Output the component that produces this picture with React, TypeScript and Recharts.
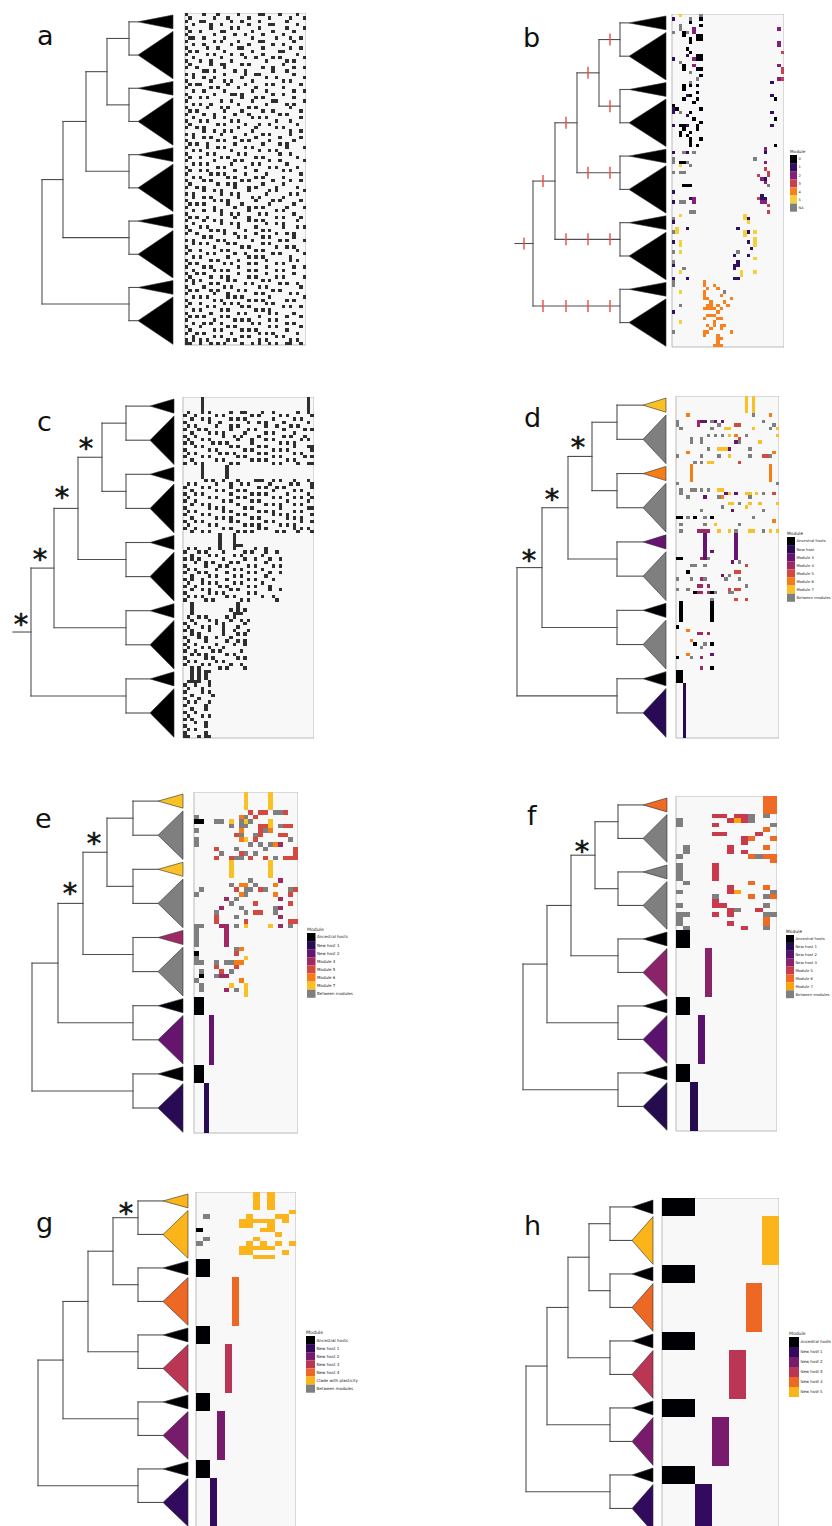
import React from 'react';
import { ComposedChart, Scatter, XAxis, YAxis, CartesianGrid, ReferenceLine, ReferenceArea, ReferenceDot } from 'recharts';

// each tree has 5 pairs of collapsed clades; tip rows as a fraction of one pair
const SMALL_F = [0.03, 0.237];
const BIG_F = [0.277, 0.99];
const FONT = '"DejaVu Sans", sans-serif';

// presence / absence matrices (a, c): '#' = present, 100 rows each
const matrixA = [
  '#....#...#.....#.....##....#....#..', '.#......#...#.....#.....#.....#...#', '#...##.......#..#....#.......#.....', '..#....#..#.......#.....##......#..',
  '#......#.....#.#.....#.......#....#', '.#..#.....##.......#.....#.....#...', '#.......#.....#..#....#.....#......', '.##..#.....#.......#......#...#..#.',
  '#.......#.#....#.....##........#...', '..#..#.......#....#......#..#......', '#.....#..#.....##.....#.......#..#.', '.#.#.......#.......#.......##......',
  '#.....#.#....#..#.....#.........#..', '..#.......#......#..#....#.#......#', '#...#..#.....#.........#.....#.#...', '.#.....#..##....#.#.........#......',
  '#..#.......#..........#..#.....#..#', '.....##.#.....#..#.......#...#.....', '#.#........#.....#..##.........#...', '..#..#..#.......#......#..#.......#',
  '#......#...#.#.....#........#.#....', '.#.##.......#....#.....#.#.......#.', '#......#.#.....#....#.......#......', '..#..#.....#.......#...#.......#..#',
  '#.......#....##.#........#..#......', '.#..#.#.........#...#.#........#...', '#.........#..#.....#.....##.......#', '..#.#..#.......#.......#.....#.#...',
  '#.....#...#.#.....#.#.........#....', '.#.#.......#....#.....#..#.......#.', '#....#..#.....#...#........#.#.....', '..#.....#..#.......#.#.#.........#.',
  '#...#.#......#.#..........#...#....', '.#.......#.#.....#...#..#.......#..', '#..#.#.........#....#.....#.#......', '.....#..#..#.#.....#..........#..#.',
  '#.#.......#......#....#.#.....#....', '..#..#.#......#.....#......#.....#.', '#........#.#....#.#.....#......#...', '.#.#..#.......#.......#....#.#.....',
  '#.....#..#.#.....#.#.........#....#', '..#.#........#.......#..#.#........', '#.....#.#......#.#.........#..#....', '.#..#.....#.#.......#.#.........#..',
  '#.......#.....#.#.......#..#......#', '..#.#.#......#.....#.#.......#.....', '#........#.#.....#......#.#.....#..', '.#..#.#.......#.....#.......#.#....',
  '#......#.#.#.....#.....#.........#.', '..#.#.......#.#.....#.#.....#......', '#....#.#........#.#......#....#..#.', '.#.......#..#.#.......#.....#......',
  '#..#.#........#...#.#.....#.....#..', '.....#..#.#.......#.....#.#.......#', '#.#.......#..#.#.......#......#.#..', '..#..#.#.......#...#.#......#......',
  '#.......#.#.#.......#....#.#.....#.', '.#.#.#......#...#.......#......#...', '#.......#.....#...#.#.#......#....#', '..#..#..#.#.......#.......#.#......',
  '#.........#..#.#.....#.#.......#...', '.#.#..#.......#...#.......#.#....#.', '#....#..#.#.......#.#.#.........#..', '..#.......#..#.#.......#..#.#......',
  '#...#.#........#....#.......#...#.#', '.#.....#.#.#.....#....#.#.........', '#..#.......#..#.....#.....#..#.#...', '.....#.#.......#.#....#.#......#...',
  '#.#......#.#.......#.......#.#....#', '..#.#.#.....#.#.......#.#.........', '#.......#.......#.#.......#..#.#...', '.#..#.....#.#.......#.#.........#..',
  '#.....#.#.....#..#.......#.#......#', '..#.#.......#.....#.#.#.......#....', '#......#.#.....#.......#......#.#..', '.#.#.......#.#....#.#.....#.#......',
  '#....#.#.......#.......#.......#..#', '..#.....#.#.#.....#.#.....#.#......', '#..#.#.........#.......#.......#...', '.#.....#..#.#.....#.#.....#.#.....#',
  '#.#.#.......#.#.......#.#.........', '..#....#.#.......#.#.......#.#..#..', '#....#.....#.#.......#.#.........#.', '.#.#...#.#.....#.#.......#.#.......',
  '#.......#...#.......#.#.......#.#..', '..#.#.#.....#.#.#.......#.........#', '#.......#.#.......#.#.#......#.#...', '.#..#......#.#.#.......#.#.........',
  '#.....#.#.......#.#.........#.#..#.', '..#.#.....#.#.......#.#.#.........', '#......#.......#.#......#.#....#...', '.#.#.#....#.#........#.......#...#.',
  '#.......#.....#.#.#.....#.#.......', '..#..#.#..#........#.#.......#.#...', '#...#.......#.#.........#.#......#.', '.#......#.#.....#.#.#........#.....',
  '#..#.#.......#.......#.#.#......#..', '..#.....#.#.....#.#.......#.#......', '#.#.#.#.....#.#......#.#......#.#..', '##..#..#.#.#....#..#.#..#.#..##..#.',
];

const matrixC = [
  '.....#.............................#.', '.....#.............................#.', '.....#.............................#.', '.....#.............................#.',
  '.#...#.#.....#..##....#..#......#..#.', '#..#.....#.#.......#.#.....#.#......#', '..#..#.#.....#.#.#.......#.....#.#...', '#......#..#.......#..#.#....#......#.',
  '.#.#.....#...#.#.......#..#...#.#....', '#...#.#......#....#.#.......#.....#.#', '..#....#.#.#.....#.....#.#.....#.....', '#..#.......#..#.#....#......#.#...#..',
  '.#...#.#.......#...#...#.#.......#.#.', '#.#.....#.#.#......#.......#.#.#.....', '...#.#.......#.#.....#.#.......#...##', '#......#.#.......#.#.....#.#.#......#',
  '.#.#......#.#.#......#.#.......#.#...', '#....#.#.......#.#.......#.#......#.#', '..#......#.#.......#.#.#.....#.#.....', '#..#.#.......#.#.........#.#....#..##',
  '.....#......#', '.....#......#', '.....#......#', '.....#......#',
  '......#.#..#...#....###..#.#...#...#.', '.#.#.....#...#..#.#.....#.....#.#...#', '#....#.#.....#.......#.#..#.#.......#', '..#......#.#...#.#.......#.....#.#...',
  '#..#.#.......#.....#.#.#.....#.....#.', '.#.....#.#.....#.#.......#.#...#.#..#', '#..#.......#.#.....#.#.......#.....#.', '..#..#.#.......#.......#.#.#...#.#...',
  '#......#.#.#.....#.#.......#.......##', '.#.#.......#.#.......#.#.#.....#.#...', '#....#.#.......#.#.......#.#.#......#', '..#......#.#.#.....#.#.......#.#.#...',
  '#..#.#.......#.#.......#.#.......#..#', '.#.....#.#.......#.#.#.....#.#.#.....', '#..#.......#.#.......#.#.......#.#.#.', '..#..#.#.......#.#.#......#.#...#...#',
  '..........#...#', '..........#...#', '..........#...#', '..........#...###',
  '.#.#...#..#...#.....#..#.....', '#...#.#....#.....#.#...#..#..', '..#....#.#....#.#.....#......', '#.#.#......#.....#..#...#..#.',
  '...#..#.#....#.#.......#.....', '#.....#...#.#.....#.#....#.#.', '.#.#.....#....#.#.....#......', '#...#.#.....#.....#.#...#..#.',
  '..#....#.#....#.#......#.....', '#.#..#......#.....#.#....#...', '.#...#.#.#....#.#.....#......', '#..#......#.#.....#.#...#....',
  '..#..#.#.....#.#........#..#.', '#......#.#.#......#.#........', '.#.#.#......#.#.......#..#...', '#.....#.#.......#.#.......#..',
  '..#............#', '..#............#', '..#..........#.#.#', '..#...........###',
  '.#..#.#.....#.#....', '..#....#.#...#..#.#', '#..#.....#.#.....#.', '.#...#.#...#...#...',
  '#.#....#...#..#...#', '..#.#......#...#.#.', '#...#.#..#...#.....', '.#....#.....#..#.#.',
  '#..#.....#....#..#.', '.#...#.#...#.......', '#..#....#.#.....#..', '..#.#.#.....#.#....',
  '#.....#.#......#.#.', '.#.#.....#.#.......', '#....#.#.....#..#..', '..#.#.....#.#....#.',
  '..#.#.##', '..#.#.#', '..#.#.#', '.####..#',
  '#..#...#.', '.#...#...', '#....#.#.', '..#.....#', '#...#....', '.#.#...#.', '#.....#..', '..#...#..',
  '#..#.....', '.#...#.#.', '#.#......', '...#..#..', '#.....#..', '.#.#.....', '#.....#..', '##..#.##.',
];

// coloured matrices: "rows: col(s)+key ..."
const cellsB = [
  '0: 2y 8g', '1: 0p 5g 8k', '2: 5k', '3: 2g 8k', '4: 2g 6m 31m', '5: 0g 3k 4g 6m', '6: 3k 7-8k', '7: 5k 7-8k',
  '8: 5k 31m', '9: 31m', '10: 4k', '11: 5k 32r', '12: 4p 7-8k', '13: 0p 6m 7-8k', '14: 2g', '15: 3k 6m 31m',
  '16: 3k 7-8k 32r', '17: 5g 32r', '18: 8k', '19: 7g 31m 32r', '20: 5g 29p', '21: 3k 5k 7k', '22: 3k', '23: 7k',
  '24: 4p 5k 29p', '25: 3k 7k 30k', '26: 6k', '27: 0k', '28: 0p 1k 8k', '29: 0p 2g 5k 29p', '30: 4p', '31: 6k 30k',
  '32: 8k', '33: 0p 2-3k 4p 7k 29p', '34: 3k 7k', '35: 2k 5k', '36: 2k 4k', '37: 5k 8k', '38: 5k', '39: 5k 7k 30k',
  '40: 27m', '41: 0p 3g 4p 6g 27p', '43: 0g 24g', '44: 0g 2-3k 4g 27m', '45: 2y 5g', '46: 27r', '47: 0g 2-3g 28r',
  '48: 25r 28r', '49: 26m 27p', '50: 27m', '51: 3k 4k 5k 28g', '53: 0p', '54: 26p', '55: 5p 6m 25r 26-27p',
  '56: 0p 2-3g 6m 26-27m', '57: 28r', '59: 5-6g 28r', '60: 2y 21y', '61: 0g 21y 22p', '62: 0p 22y', '64: 1y 4p 19p',
  '65: 0g 1y 21y 22p 24y', '66: 21y', '67: 24y', '68: 0p 2y 22p 24y', '69: 2y 24y', '70: 23p', '71: 0g 2y 19g',
  '72: 18p 22p', '73: 24y', '74: 0g 19p', '75: 0p 18-19p', '76: 3g 18p', '77: 2y 20y 24y', '78: 20y', '79: 0p 4p 18p 19p',
  '80: 0g 9o', '81: 0g 9o 12o', '82: 10o 13o', '83: 2y 9o 15g', '84: 9o 14o', '85: 9-10o 17o', '86: 11o 15o',
  '87: 2g 10-11o 13o 16o', '88: 9-12o 14o', '89: 0p 13o', '90: 10-12o', '91: 9o 13-14o', '92: 2y 12o',
  '93: 10o 12o 14-15o', '94: 11o 14o', '95: 0g 9-10o 17o', '96: 9o 13o', '97: 13-14o', '98: 13o', '99: 12-14o',
];

const cellsD = [
  '0-4: 20y 22y', '5: 3o 22g 27o', '7: 0g 6r 7m 8m 10g 11m 13m 25g', '8: 0g 6r 12g 17-18s 28g',
  '9: 1g 10g 14-15y 22y 27g 29y', '11: 9g 11g 13g 15y 17o 20g 29y', '12: 4g 7g 18s', '13: 4g 7g 17m 18g 24y',
  '15: 9g 12y 13-14y 15m 21g', '16: 3o 28o', '17: 0g 7g 12g 15y 21g 25-26s 27g', '19: 5g 7g 9-10y 18s',
  '20-24: 4o 27o', '25: 0g 29g', '27: 1g 4-5g 7g 9g 12-13y', '28: 1g 14m 15y 17m 20-21y 23y 25g 28s',
  '29: 3g 8m 12g 13o 21g', '31: 15-16y 18g 21y 24y 29y', '32: 13g 20y', '33: 7g 16m 25g',
  '35: 0-1k 3g 5k 8g 10k 22g', '36: 28o', '37: 1g 8g 11y 18g', '39: 1g 6-9r 12y 15y 17g 21-22y 25g 27y 29y',
  '40-47: 8m 17m', '45: 10m', '47: 0-1k 7r 9g', '48: 16m 18g', '49: 4g 5g 8g 20s', '51: 3k 17-18s',
  '52: 13m 15g', '53: 0g 4g 7r 8g 14g 18g', '55: 6r 7r 9r 20g', '56: 0g 3g 15s 17-18s',
  '57: 5k 6-7r 9r 10k 11g 15g 16g', '59: 10g 17s 20s', '60-65: 1k 10k', '67: 0k', '68: 3o', '69: 6r 7r 9r',
  '71: 4o', '72: 5k 8g 10k', '73: 7g', '75: 3o 10m', '76: 0k 4g 7r', '79: 7r 10k', '80-83: 0-1k', '84-99: 2p',
];

const cellsE = [
  '0-3: 10y 15y', '4: 11s 13-14s 16-17g 18s', '5: 0g 9o 10g 12s', '6: 0-1k 4-5g 7y 9g 10y 11g 15y',
  '7: 7g 9-10g 13-14s 15y 17g 18-19s', '8: 0g 9o 13s 14g 15o', '9: 8s 9g 12g 13s 17-18s',
  '10: 0g 9o 10y 12s 19g', '11: 0g 11g 13g 15g 16o 17r', '12: 4s 8g 14g 20s', '13: 5g 9s 10g 12g 20s',
  '14: 4s 7s 8-9g 11s 14s 16g 18s 19-20s', '15-18: 7y 15y', '19: 11g 17r', '20: 7g 9-10o 12g 16o',
  '21: 1g 8s 10g 11g 13s 14g 19g 20s', '22: 0g 9o 10g 16o 19s', '23: 6r 8g 17r', '24: 7g 12s 19s',
  '25: 5r 9g 16g 17r', '26: 4g 10g 12s 13s 16g', '27: 4s 8g 17r', '28: 4s 10s 19-20s',
  '29: 0g 1g 5-6r 8g 10y 15y 17r 19g', '30-33: 0g 6r', '34: 8g 9o', '35: 0k 8s', '36: 0g 10y',
  '37: 0g 1g 4g 6-7g 8-9o', '38: 4s 8s', '39: 1g 5s 7g', '40: 1k 4g 5-6r', '41: 0g 9o', '42: 1g 7y 10y',
  '43: 1g 6r 8g 10y', '44: 10y', '45-48: 0-1k', '49-59: 3m', '60-63: 0-1k', '64-74: 2p',
];

const cellsF = [
  '0-3: 12-13o', '4: 5-6s 8s 9s 10g 12g', '5: 0g 7s 8y 9s 10g', '6: 0g 5s 13g', '7: 12o', '8: 5-6s 11s',
  '9: 9s 10o 13o', '10: 9s', '11: 1g 7s 12o', '12: 1g 7s 9s', '13: 0g 10o 11g 12-13o', '14: 13o',
  '15-18: 0g 5s', '19: 1g 10o', '20: 7s 12o', '21: 0g 7s 8y 13g', '22: 5g 10o 12g 13o', '23: 5s',
  '24: 0g 5-6s 12g', '25: 7s 8g 11s', '26: 0g 1g 5s 7s 12g 13g', '27: 0g 12o', '28: 0g 7s 12o',
  '29: 1g 9s 12g', '30-33: 0-1k', '34-44: 4r', '45-48: 0-1k', '49-59: 3m', '60-63: 0-1k', '64-74: 2p',
];

const cellsG = [
  '0-3: 8o 10o', '4: 13o', '5: 1g 7o 11-12o', '6: 6-10o 12o', '7: 6-7o 10o', '8: 0k 9-10o', '9: 11o',
  '10: 1g 8o', '11: 0g 7o 9o 11o 13o', '12: 6-10o', '13: 6-7o 12o', '14: 8-10o',
  '15-18: 0-1k', '19-29: 5s', '30-33: 0-1k', '34-44: 4r', '45-48: 0-1k', '49-59: 3m', '60-63: 0-1k', '64-74: 2p',
];

const cellsH = [
  '0-3: 0-1k', '4-14: 6y', '15-18: 0-1k', '19-29: 5o', '30-33: 0-1k', '34-44: 4r',
  '45-48: 0-1k', '49-59: 3m', '60-63: 0-1k', '64-74: 2p',
];

// palettes
const palBW: Record<string, string> = { k: '#000000' };
const palB: Record<string, string> = { k: '#000004', p: '#30105f', m: '#82207a', r: '#c7404f', o: '#f6811d', y: '#f4d03f', g: '#7f7f7f' };
const palDE: Record<string, string> = { k: '#000004', p: '#280B54', m: '#65156E', r: '#9F2A63', s: '#D44842', o: '#F57D15', y: '#FAC127', g: '#7f7f7f' };
const palF: Record<string, string> = { k: '#000004', p: '#240c4f', m: '#5a126f', r: '#8b2369', s: '#c93a4c', o: '#ee6a25', y: '#fba40a', g: '#7f7f7f' };
const palG: Record<string, string> = { k: '#000004', p: '#320A5E', m: '#781B6C', r: '#BB3654', s: '#EC6824', o: '#FBB41A', g: '#7f7f7f' };
const palH: Record<string, string> = { k: '#000004', p: '#320A5E', m: '#781B6C', r: '#BB3654', o: '#EC6824', y: '#FBB41A' };

// collapsed clade colours (small, big) per pair, top to bottom
const triBlack = 'k k k k k k k k k k';
const triD = 'y g o g m g k g k p';
const triE = 'y g y g r g k m k p';
const triF = 'o g g g k r k m k p';
const triG = 'o o k s k r k m k p';
const triH = 'k y k o k r k m k p';

// node depths: root, n3, n2, n1, pair node ; tips: apex, base
const depthsA = [42, 63, 86, 107, 129];
const depthsB = [33, 55, 77, 99, 120];
const depthsC = [31, 54, 78, 102, 126];
const depthsD = [17, 42, 68, 92, 117];
const depthsE = [32, 58, 83, 107, 133];
const depthsF = [23, 47, 71, 95, 118];
const depthsG = [38, 63, 88, 113, 138];
const depthsH = [26, 47, 68, 89, 110];
const tipA = [138, 173];
const tipB = [129, 166];
const tipC = [150, 174];
const tipD = [143, 166];
const tipE = [158, 183];
const tipF = [143, 167];
const tipG = [163, 188];
const tipH = [132, 153];

// red marks on branches of b: [depth, branch]
const redTicksB: [number, string][] = [
  [24, 'root'], [43, 'n3'], [66, 'n2'], [88, 'n1'], [110, 'p0'], [110, 'p1'], [88, 'p2'], [110, 'p2'],
  [66, 'p3'], [88, 'p3'], [110, 'p3'], [43, 'p4'], [66, 'p4'], [88, 'p4'], [110, 'p4'],
];

// asterisks: [depth, row]
const starsC = [[86, 13.5], [62, 28.1], [40, 46.3], [21, 65.3]];
const starsD = [[78, 13.7], [52, 28.7], [29, 46.5]];
const starsE = [[94, 10.3], [70, 21.3]];
const starsF = [[82, 11.4]];
const starsG = [[126, 3.6]];

const legendB: [string, string][] = [['k', '0'], ['p', '1'], ['m', '2'], ['r', '3'], ['o', '4'], ['y', '5'], ['g', 'NA']];
const legendD: [string, string][] = [['k', 'Ancestral hosts'], ['p', 'New host'], ['m', 'Module 3'], ['r', 'Module 4'], ['s', 'Module 5'], ['o', 'Module 6'], ['y', 'Module 7'], ['g', 'Between modules']];
const legendE: [string, string][] = [['k', 'Ancestral hosts'], ['p', 'New host 1'], ['m', 'New host 2'], ['r', 'Module 4'], ['s', 'Module 5'], ['o', 'Module 6'], ['y', 'Module 7'], ['g', 'Between modules']];
const legendF: [string, string][] = [['k', 'Ancestral hosts'], ['p', 'New host 1'], ['m', 'New host 2'], ['r', 'New host 3'], ['s', 'Module 5'], ['o', 'Module 6'], ['y', 'Module 7'], ['g', 'Between modules']];
const legendG: [string, string][] = [['k', 'Ancestral hosts'], ['p', 'New host 1'], ['m', 'New host 2'], ['r', 'New host 3'], ['s', 'New host 4'], ['o', 'Clade with plasticity'], ['g', 'Between modules']];
const legendH: [string, string][] = [['k', 'Ancestral hosts'], ['p', 'New host 1'], ['m', 'New host 2'], ['r', 'New host 3'], ['o', 'New host 4'], ['y', 'New host 5']];

type Cell = { x: number; y: number; fill: string };

function denseCells(rows: string[], fill: string): Cell[] {
  const out: Cell[] = [];
  rows.forEach((row, r) => {
    for (let c = 0; c < row.length; c++) if (row[c] === '#') out.push({ x: c + 0.5, y: r + 0.5, fill });
  });
  return out;
}

function span(s: string): [number, number] {
  const [a, b] = s.split('-').map(Number);
  return [a, b === undefined ? a : b];
}

function sparseCells(entries: string[], pal: Record<string, string>): Cell[] {
  const out: Cell[] = [];
  entries.forEach(e => {
    const [rs, rest] = e.split(':');
    const [r0, r1] = span(rs.trim());
    rest.trim().split(/\s+/).filter(Boolean).forEach(tok => {
      const key = tok.slice(-1);
      const [c0, c1] = span(tok.slice(0, -1));
      for (let r = r0; r <= r1; r++) for (let c = c0; c <= c1; c++) out.push({ x: c + 0.5, y: r + 0.5, fill: pal[key] });
    });
  });
  return out;
}

const centres = (n: number) => Array.from({ length: n }, (_, i) => i + 0.5);

function Matrix({ left, top, width, height, ncols, rows, cells }: any) {
  const AX = 3;
  const cw = width / ncols;
  const ch = height / rows;
  const colTicks = centres(ncols);
  const rowTicks = centres(rows);
  const axes = (lines: boolean) => [
    <XAxis key="x" type="number" dataKey="x" domain={[0, ncols]} ticks={colTicks} interval={0} tick={false} axisLine={false}
      tickSize={2} height={AX} tickLine={lines ? { stroke: '#8f8f8f', strokeWidth: 0.6 } : false} allowDataOverflow />,
    <YAxis key="y" type="number" dataKey="y" domain={[0, rows]} reversed ticks={rowTicks} interval={0} tick={false} axisLine={false}
      tickSize={2} width={AX} tickLine={lines ? { stroke: '#a8a8a8', strokeWidth: 0.5 } : false} allowDataOverflow />,
  ];
  const margin = { top: 0, right: 0, bottom: 0, left: 0 };
  return (
    <>
      <div style={{ position: 'absolute', left: left - AX, top }}>
        <ComposedChart width={width + AX} height={height + AX} margin={margin}>
          <CartesianGrid stroke="#dcdcdc" strokeWidth={0.6} fill="#f8f8f8" />
          {axes(false)}
        </ComposedChart>
      </div>
      <div style={{ position: 'absolute', left: left - AX, top }}>
        <ComposedChart width={width + AX} height={height + AX} margin={margin}>
          {axes(true)}
          <Scatter data={cells} isAnimationActive={false}
            shape={(p: any) => (
              <rect x={p.cx - cw / 2} y={p.cy - ch / 2} width={cw} height={ch} fill={p.payload.fill} shapeRendering="crispEdges" />
            )} />
          <ReferenceArea x1={0} x2={ncols} y1={0} y2={rows} fill="none" fillOpacity={0} stroke="#b8b8b8" strokeWidth={0.8} ifOverflow="visible" />
        </ComposedChart>
      </div>
    </>
  );
}

function Tree({ left, top, height, rows, depths, tip, stub, tri, pal, ticks, stars }: any) {
  const [root, n3, n2, n1, pn] = depths;
  const [apex, base] = tip;
  const P = rows / 5;
  const sY = (i: number) => (i + (SMALL_F[0] + SMALL_F[1]) / 2) * P;
  const bY = (i: number) => (i + (BIG_F[0] + BIG_F[1]) / 2) * P;
  const pY = (i: number) => (sY(i) + bY(i)) / 2;
  const y1 = (pY(0) + pY(1)) / 2;
  const y2 = (y1 + pY(2)) / 2;
  const y3 = (y2 + pY(3)) / 2;
  const yr = (y3 + pY(4)) / 2;
  const seg: number[][] = [];
  for (let i = 0; i < 5; i++) seg.push([pn, sY(i), pn, bY(i)], [pn, sY(i), apex, sY(i)], [pn, bY(i), apex, bY(i)]);
  seg.push([n1, pY(0), n1, pY(1)], [n1, pY(0), pn, pY(0)], [n1, pY(1), pn, pY(1)]);
  seg.push([n2, y1, n2, pY(2)], [n2, y1, n1, y1], [n2, pY(2), pn, pY(2)]);
  seg.push([n3, y2, n3, pY(3)], [n3, y2, n2, y2], [n3, pY(3), pn, pY(3)]);
  seg.push([root, y3, root, pY(4)], [root, y3, n3, y3], [root, pY(4), pn, pY(4)]);
  if (stub != null) seg.push([stub, yr, root, yr]);
  const branchY: Record<string, number> = { root: yr, n3: y3, n2: y2, n1: y1, p0: pY(0), p1: pY(1), p2: pY(2), p3: pY(3), p4: pY(4) };
  const keys = tri.split(' ');
  const W = base + 2;
  const half = 0.09 * P;
  const triangle = (fill: string) => (p: any) => (
    <polygon points={`${p.x},${p.y + p.height / 2} ${p.x + p.width},${p.y} ${p.x + p.width},${p.y + p.height}`}
      fill={fill} stroke="#2e2e2e" strokeWidth={0.6} />
  );
  const FS = 29;
  return (
    <div style={{ position: 'absolute', left, top }}>
      <ComposedChart width={W} height={height} margin={{ top: 0, right: 0, bottom: 0, left: 0 }}>
        <XAxis type="number" dataKey="x" domain={[0, W]} hide allowDataOverflow />
        <YAxis type="number" dataKey="y" domain={[0, rows]} reversed hide allowDataOverflow />
        {seg.map((s, i) => (
          <ReferenceLine key={'s' + i} segment={[{ x: s[0], y: s[1] }, { x: s[2], y: s[3] }]}
            stroke="#4f4f4f" strokeWidth={1.1} strokeLinecap="square" ifOverflow="visible" />
        ))}
        {[0, 1, 2, 3, 4].map(i => (
          <ReferenceArea key={'ts' + i} x1={apex} x2={base} y1={(i + SMALL_F[0]) * P} y2={(i + SMALL_F[1]) * P}
            ifOverflow="visible" shape={triangle(pal[keys[2 * i]])} />
        ))}
        {[0, 1, 2, 3, 4].map(i => (
          <ReferenceArea key={'tb' + i} x1={apex} x2={base} y1={(i + BIG_F[0]) * P} y2={(i + BIG_F[1]) * P}
            ifOverflow="visible" shape={triangle(pal[keys[2 * i + 1]])} />
        ))}
        {(ticks || []).map(([d, b]: [number, string], i: number) => (
          <ReferenceLine key={'r' + i} segment={[{ x: d, y: branchY[b] - half }, { x: d, y: branchY[b] + half }]}
            stroke="#ee4b43" strokeWidth={1.4} ifOverflow="visible" />
        ))}
        {(stars || []).map(([d, r]: number[], i: number) => (
          <ReferenceDot key={'a' + i} x={d} y={r} r={0} ifOverflow="visible"
            shape={(p: any) => (
              <text x={p.cx} y={p.cy + FS * 0.5} textAnchor="middle" fontSize={FS} fontFamily={FONT}
                fill="#111" stroke="#111" strokeWidth={0.6}>*</text>
            )} />
        ))}
      </ComposedChart>
    </div>
  );
}

function LegendBlock({ x, y, w, h, fs, items, pal }: any) {
  return (
    <g fontFamily={FONT} fill="#222">
      <text x={x} y={y - 2} fontSize={fs + 0.6}>Module</text>
      {items.map(([k, label]: [string, string], i: number) => (
        <g key={i}>
          <rect x={x} y={y + i * h} width={w} height={h} fill={pal[k]} />
          <text x={x + w + 1.5} y={y + i * h + h / 2 + fs * 0.36} fontSize={fs}>{label}</text>
        </g>
      ))}
    </g>
  );
}

const panels = [
  { id: 'a', px: 0, lx: 37, ly: 45, m: { left: 185, top: 13, width: 121, height: 332, ncols: 35, rows: 100 }, depths: depthsA, tip: tipA, stub: null, tri: triBlack, pal: palBW, cells: denseCells(matrixA, '#2f2f2f') },
  { id: 'b', px: 500, lx: 523, ly: 47, m: { left: 672, top: 14, width: 112, height: 333, ncols: 33, rows: 100 }, depths: depthsB, tip: tipB, stub: 15, tri: triBlack, pal: palBW, cells: sparseCells(cellsB, palB), ticks: redTicksB },
  { id: 'c', px: 0, lx: 37, ly: 431, m: { left: 183, top: 397, width: 131, height: 341, ncols: 37, rows: 100 }, depths: depthsC, tip: tipC, stub: 13, tri: triBlack, pal: palBW, cells: denseCells(matrixC, '#2f2f2f'), stars: starsC },
  { id: 'd', px: 500, lx: 524, ly: 427, m: { left: 676, top: 396, width: 103, height: 342, ncols: 30, rows: 100 }, depths: depthsD, tip: tipD, stub: null, tri: triD, pal: palDE, cells: sparseCells(cellsD, palDE), stars: starsD },
  { id: 'e', px: 0, lx: 35, ly: 828, m: { left: 194, top: 792, width: 104, height: 341, ncols: 21, rows: 75 }, depths: depthsE, tip: tipE, stub: null, tri: triE, pal: palDE, cells: sparseCells(cellsE, palDE), stars: starsE },
  { id: 'f', px: 500, lx: 527, ly: 825, m: { left: 676, top: 796, width: 101, height: 335, ncols: 14, rows: 75 }, depths: depthsF, tip: tipF, stub: null, tri: triF, pal: palF, cells: sparseCells(cellsF, palF), stars: starsF },
  { id: 'g', px: 0, lx: 36, ly: 1232, m: { left: 196, top: 1192, width: 100, height: 335, ncols: 14, rows: 75 }, depths: depthsG, tip: tipG, stub: null, tri: triG, pal: palG, cells: sparseCells(cellsG, palG), stars: starsG },
  { id: 'h', px: 500, lx: 524, ly: 1235, m: { left: 662, top: 1198, width: 117, height: 335, ncols: 7, rows: 75 }, depths: depthsH, tip: tipH, stub: null, tri: triH, pal: palH, cells: sparseCells(cellsH, palH) },
];

const legends = [
  { x: 790, y: 155, w: 7, h: 8.1, fs: 3.6, items: legendB, pal: palB },
  { x: 787, y: 537, w: 8, h: 8.1, fs: 3.8, items: legendD, pal: palDE },
  { x: 307, y: 933, w: 8.5, h: 8.1, fs: 4, items: legendE, pal: palDE },
  { x: 786, y: 935, w: 8, h: 7.9, fs: 3.8, items: legendF, pal: palF },
  { x: 306, y: 1336, w: 9, h: 8.1, fs: 4.1, items: legendG, pal: palG },
  { x: 789, y: 1337, w: 10, h: 10, fs: 3.95, items: legendH, pal: palH },
];

export default function App() {
  return (
    <div style={{ position: 'relative', width: 832, height: 1526, overflow: 'hidden', background: '#fff', fontFamily: FONT }}>
      <style>{'body{margin:0;}'}</style>
      {panels.map(p => (
        <React.Fragment key={p.id}>
          <Tree left={p.px} top={p.m.top} height={p.m.height} rows={p.m.rows} depths={p.depths} tip={p.tip} stub={p.stub}
            tri={p.tri} pal={p.pal} ticks={(p as any).ticks} stars={(p as any).stars} />
          <Matrix {...p.m} cells={p.cells} />
        </React.Fragment>
      ))}
      <svg width={832} height={1526} style={{ position: 'absolute', left: 0, top: 0, pointerEvents: 'none' }}>
        {panels.map(p => (
          <text key={p.id} x={p.lx} y={p.ly} fontSize={27} fontFamily={FONT} fill="#111">{p.id}</text>
        ))}
        {legends.map((l, i) => <LegendBlock key={i} {...l} />)}
      </svg>
    </div>
  );
}
